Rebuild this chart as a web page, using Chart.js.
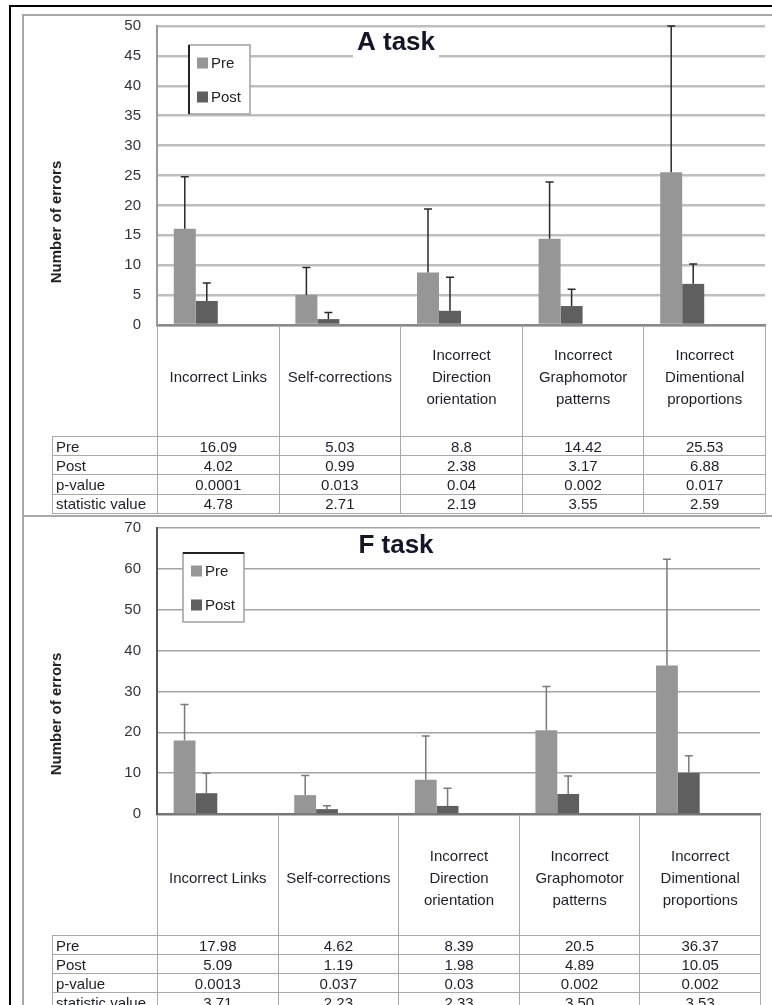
<!DOCTYPE html>
<html>
<head>
<meta charset="utf-8">
<script src="https://cdn.jsdelivr.net/npm/chart.js@4/dist/chart.umd.min.js"></script>
<style>
  html, body { margin: 0; padding: 0; background: #fff; }
  body { width: 772px; height: 1005px; overflow: hidden; position: relative; font-family: "Liberation Sans", Arial, sans-serif; }
  #frame { position: absolute; left: 9px; top: 5px; width: 820px; height: 1100px; border-left: 2px solid #000; border-top: 2px solid #000; }
  .chartbox { position: absolute; left: 22px; width: 800px; border-left: 2px solid #a8a8a8; border-top: 2px solid #a8a8a8; }
  #boxA { top: 14px; height: 501px; }
  #boxF { top: 515px; height: 600px; }
  canvas { position: absolute; left: 24px; }
  #chartA { top: 14px; }
  #chartF { top: 516px; }
  table.dt { position: absolute; left: 52px; border-collapse: collapse; table-layout: fixed; font-size: 15px; color: #1e1e28; }
  table.dt td { border: 1.5px solid #a9a9a9; padding: 0 3px; white-space: nowrap; overflow: hidden; }
  table.dt td.num { text-align: center; }
  table.dt tr.head td { border-top: none; text-align: center; vertical-align: middle; line-height: 22px; }
  table.dt tr.head td.blank { border: none; }
  #tableA { top: 326px; }
  #tableF { top: 815px; }
  #tableA tr.head td { height: 102px; padding-bottom: 8px; }
  #tableF tr.head td { height: 120px; padding-top: 6px; height: 114px; }
  #tableA tr.row td { height: 18.2px; }
  #tableF tr.row td { height: 18px; }
</style>
</head>
<body>
<div id="frame"></div>
<div class="chartbox" id="boxA"></div>
<div class="chartbox" id="boxF"></div>
<canvas id="chartA" width="744" height="330"></canvas>
<table class="dt" id="tableA"></table>
<canvas id="chartF" width="744" height="320"></canvas>
<table class="dt" id="tableF"></table>

<script>
/* ---- data ---- */
var categories = [
  ['Incorrect Links'],
  ['Self-corrections'],
  ['Incorrect', 'Direction', 'orientation'],
  ['Incorrect', 'Graphomotor', 'patterns'],
  ['Incorrect', 'Dimentional', 'proportions']
];
var rowLabels = ['Pre', 'Post', 'p-value', 'statistic value'];

/* A task */
var preA = [16.09, 5.03, 8.8, 14.42, 25.53];
var postA = [4.02, 0.99, 2.38, 3.17, 6.88];
var pValA = ['0.0001', '0.013', '0.04', '0.002', '0.017'];
var statA = ['4.78', '2.71', '2.19', '3.55', '2.59'];
var preErrA = [8.7, 4.6, 10.6, 9.5, 24.5];
var postErrA = [3.0, 1.1, 5.6, 2.8, 3.3];
var ticksA = { max: 50, step: 5 };

/* F task */
var preF = [17.98, 4.62, 8.39, 20.5, 36.37];
var postF = [5.09, 1.19, 1.98, 4.89, 10.05];
var pValF = ['0.0013', '0.037', '0.03', '0.002', '0.002'];
var statF = ['3.71', '2.23', '2.33', '3.50', '3.53'];
var preErrF = [8.8, 4.8, 10.7, 10.7, 26.0];
var postErrF = [4.9, 0.8, 4.3, 4.4, 4.2];
var ticksF = { max: 70, step: 10 };

var FONT = '"Liberation Sans", Arial, sans-serif';

/* upward-only error bars, drawn on top of each bar */
var errorBarPlugin = {
  id: 'errorBars',
  afterDatasetsDraw: function(chart, args, opts) {
    var ctx = chart.ctx;
    var yScale = chart.scales.y;
    var area = chart.chartArea;
    ctx.save();
    ctx.strokeStyle = opts.color;
    ctx.lineWidth = 1.5;
    chart.data.datasets.forEach(function(ds, i) {
      if (!ds.errorPlus) return;
      chart.getDatasetMeta(i).data.forEach(function(bar, j) {
        var top = Math.max(yScale.getPixelForValue(ds.data[j] + ds.errorPlus[j]), area.top);
        ctx.beginPath();
        ctx.moveTo(bar.x, bar.y);
        ctx.lineTo(bar.x, top);
        ctx.moveTo(bar.x - 4, top);
        ctx.lineTo(bar.x + 4, top);
        ctx.stroke();
      });
    });
    ctx.restore();
  }
};

/* Excel-style overlay: title on white patch, boxed legend, axis title */
var overlayPlugin = {
  id: 'overlay',
  afterDraw: function(chart, args, opts) {
    var ctx = chart.ctx;
    var area = chart.chartArea;
    ctx.save();

    /* chart title, centred on the whole chart object */
    ctx.font = 'bold 26px ' + FONT;
    var tw = ctx.measureText(opts.title).width;
    var tx = chart.width / 2;
    ctx.fillStyle = '#fff';
    ctx.fillRect(tx - tw / 2 - 4, opts.titleBase - 22, tw + 8, 31);
    ctx.fillStyle = '#15152a';
    ctx.textAlign = 'center';
    ctx.textBaseline = 'alphabetic';
    ctx.fillText(opts.title, tx, opts.titleBase);

    /* legend: only Pre and Post */
    var lx = area.left + opts.legendX;
    var ly = area.top + opts.legendY;
    var lw = 61, lh = 69;
    ctx.fillStyle = '#fff';
    ctx.fillRect(lx, ly, lw, lh);
    ctx.strokeStyle = '#a0a0a0';
    ctx.lineWidth = 1.5;
    ctx.strokeRect(lx, ly, lw, lh);
    ctx.strokeStyle = '#222';
    ctx.lineWidth = 2;
    ctx.beginPath();
    if (opts.darkEdge === 'left') { ctx.moveTo(lx, ly); ctx.lineTo(lx, ly + lh); }
    else { ctx.moveTo(lx, ly); ctx.lineTo(lx + lw, ly); }
    ctx.stroke();
    ctx.font = '15px ' + FONT;
    ctx.textAlign = 'left';
    ctx.textBaseline = 'middle';
    [0, 1].forEach(function(i) {
      var ds = chart.data.datasets[i];
      var cy = ly + 18 + i * 34;
      ctx.fillStyle = ds.backgroundColor;
      ctx.fillRect(lx + 8, cy - 5.5, 11, 11);
      ctx.fillStyle = '#222';
      ctx.fillText(ds.label, lx + 22, cy + 1);
    });

    /* y axis title */
    ctx.translate(opts.axisTitleX, area.bottom - opts.axisTitleDrop);
    ctx.rotate(-Math.PI / 2);
    ctx.font = 'bold 15px ' + FONT;
    ctx.textAlign = 'center';
    ctx.fillStyle = '#222';
    ctx.fillText('Number of errors', 0, 0);
    ctx.restore();
  }
};

function buildChart(id, cfg) {
  return new Chart(document.getElementById(id), {
    type: 'bar',
    data: {
      labels: categories.map(function(c) { return c.join(' '); }),
      datasets: [
        { label: 'Pre', data: cfg.pre, errorPlus: cfg.preErr, backgroundColor: '#969696' },
        { label: 'Post', data: cfg.post, errorPlus: cfg.postErr, backgroundColor: '#5f5f5f' },
        /* the table series, plotted with no fill as in the original sheet */
        { label: 'p-value', data: cfg.pVal.map(Number), backgroundColor: 'rgba(0,0,0,0)' },
        { label: 'statistic value', data: cfg.stat.map(Number), backgroundColor: 'rgba(0,0,0,0)' }
      ]
    },
    options: {
      responsive: false,
      animation: false,
      layout: { padding: { top: 12, right: cfg.padRight, bottom: cfg.padBottom, left: 0 } },
      datasets: { bar: { categoryPercentage: 0.724, barPercentage: 1 } },
      plugins: {
        legend: { display: false },
        tooltip: { enabled: false },
        errorBars: { color: cfg.errColor },
        overlay: cfg.overlay
      },
      scales: {
        x: {
          ticks: { display: false },
          grid: { display: false, drawTicks: false },
          border: { color: cfg.xBorder, width: 2.5 },
          afterFit: function(s) { s.height = 0; s.paddingLeft = 0; s.paddingRight = 0; }
        },
        y: {
          min: 0,
          max: cfg.ticks.max,
          ticks: { stepSize: cfg.ticks.step, padding: 16, color: '#33333d', font: { family: FONT, size: 15 } },
          grid: { color: cfg.gridColor, lineWidth: cfg.gridWidth, drawTicks: false },
          border: { color: cfg.yBorder, width: 2 },
          afterFit: function(s) { s.width = 133; s.paddingTop = 0; s.paddingBottom = 0; }
        }
      }
    },
    plugins: [errorBarPlugin, overlayPlugin]
  });
}

function buildTable(id, series) {
  var html = '<colgroup><col style="width:105px">';
  categories.forEach(function() { html += '<col style="width:' + series.colWidth + 'px">'; });
  html += '</colgroup><tr class="head"><td class="blank"></td>';
  categories.forEach(function(c) { html += '<td>' + c.join('<br>') + '</td>'; });
  html += '</tr>';
  series.rows.forEach(function(vals, r) {
    html += '<tr class="row"><td>' + rowLabels[r] + '</td>';
    vals.forEach(function(v) { html += '<td class="num">' + v + '</td>'; });
    html += '</tr>';
  });
  document.getElementById(id).innerHTML = html;
}

buildChart('chartA', {
  pre: preA, post: postA, pVal: pValA, stat: statA,
  preErr: preErrA, postErr: postErrA, ticks: ticksA,
  padRight: 3, padBottom: 19,
  gridColor: '#bebebe', gridWidth: 2.5, xBorder: '#8a8a8a', yBorder: '#9a9a9a',
  errColor: '#2a2a2a',
  overlay: { title: 'A task', titleBase: 36, legendX: 32, legendY: 19, darkEdge: 'left', axisTitleX: 33, axisTitleDrop: 103 }
});
buildTable('tableA', { colWidth: 121.6, rows: [preA, postA, pValA, statA] });

buildChart('chartF', {
  pre: preF, post: postF, pVal: pValF, stat: statF,
  preErr: preErrF, postErr: postErrF, ticks: ticksF,
  padRight: 8, padBottom: 22,
  gridColor: '#a4a4a4', gridWidth: 1.5, xBorder: '#777', yBorder: '#555',
  errColor: '#7a7a7a',
  overlay: { title: 'F task', titleBase: 37, legendX: 26, legendY: 25, darkEdge: 'top', axisTitleX: 33, axisTitleDrop: 100 }
});
buildTable('tableF', { colWidth: 120.6, rows: [preF, postF, pValF, statF] });
</script>
</body>
</html>
